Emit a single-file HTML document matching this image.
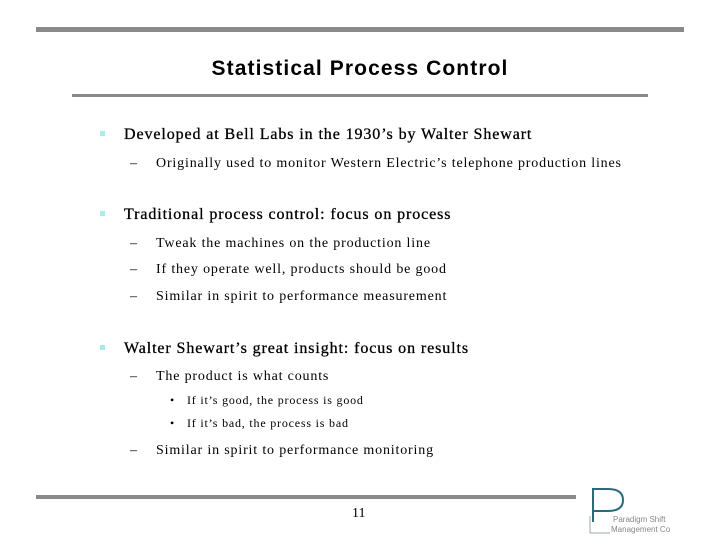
<!DOCTYPE html>
<html><head><meta charset="utf-8"><style>
body{margin:0;width:720px;height:540px;background:#fff;position:relative;overflow:hidden;font-family:"Liberation Serif",serif;color:#000}
.a{position:absolute;white-space:nowrap}
.bar{position:absolute;background:#8a8a8a}
.l1{font-size:16px;letter-spacing:0.9px;-webkit-text-stroke:0.3px #000}
.l2{font-size:14px;letter-spacing:0.83px}
.l3{font-size:12px;letter-spacing:0.8px}
.sq{position:absolute;width:5px;height:5px;background:#a6ecec}
</style></head><body>
<div class="bar" style="left:36px;top:27px;width:648px;height:5px"></div>
<div class="a" style="left:0;width:720px;text-align:center;top:57px;font-family:'Liberation Sans',sans-serif;font-weight:bold;font-size:21px;letter-spacing:1.1px">Statistical Process Control</div>
<div class="bar" style="left:72px;top:94px;width:576px;height:3px"></div>

<div class="sq" style="left:100px;top:131px"></div>
<div class="a l1" style="left:124px;top:126px">Developed at Bell Labs in the 1930’s by Walter Shewart</div>
<div class="a l2" style="left:130px;top:156px">–</div>
<div class="a l2" style="left:156px;top:156px">Originally used to monitor Western Electric’s telephone production lines</div>

<div class="sq" style="left:100px;top:211px"></div>
<div class="a l1" style="left:124px;top:206px">Traditional process control: focus on process</div>
<div class="a l2" style="left:130px;top:236px">–</div>
<div class="a l2" style="left:156px;top:236px">Tweak the machines on the production line</div>
<div class="a l2" style="left:130px;top:262px">–</div>
<div class="a l2" style="left:156px;top:262px">If they operate well, products should be good</div>
<div class="a l2" style="left:130px;top:289px">–</div>
<div class="a l2" style="left:156px;top:289px">Similar in spirit to performance measurement</div>

<div class="sq" style="left:100px;top:345px"></div>
<div class="a l1" style="left:124px;top:340px">Walter Shewart’s great insight: focus on results</div>
<div class="a l2" style="left:130px;top:369px">–</div>
<div class="a l2" style="left:156px;top:369px">The product is what counts</div>
<div class="a l3" style="left:170px;top:393px">•</div>
<div class="a l3" style="left:187px;top:393px">If it’s good, the process is good</div>
<div class="a l3" style="left:170px;top:416px">•</div>
<div class="a l3" style="left:187px;top:416px">If it’s bad, the process is bad</div>
<div class="a l2" style="left:130px;top:443px">–</div>
<div class="a l2" style="left:156px;top:443px">Similar in spirit to performance monitoring</div>

<div class="bar" style="left:36px;top:495px;width:540px;height:4px"></div>
<div class="a" style="left:352px;top:506px;font-size:14px">11</div>
<svg style="position:absolute;left:586px;top:486px" width="100" height="50">
<path d="M7 36 V3 H22 Q37 3 37 14 Q37 25 22 25 H7" fill="none" stroke="#2a6a78" stroke-width="2"/>
<path d="M4 30 V47 H24" fill="none" stroke="#9aa" stroke-width="1"/>
<text x="27" y="36" font-size="8" fill="#888" font-family="Liberation Sans,sans-serif">Paradigm Shift</text>
<text x="25" y="46" font-size="8" fill="#888" font-family="Liberation Sans,sans-serif">Management Co</text>
</svg>
</body></html>
